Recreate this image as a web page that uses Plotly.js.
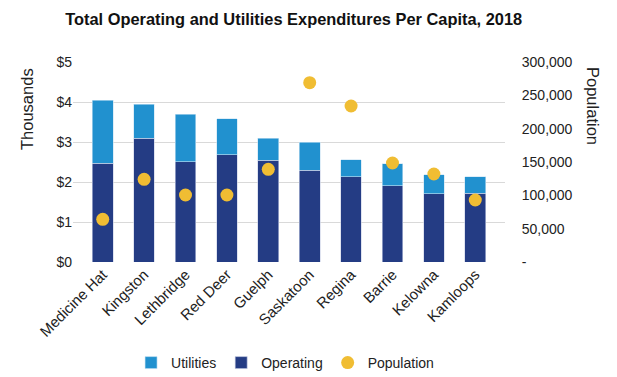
<!DOCTYPE html>
<html><head><meta charset="utf-8">
<script src="https://cdn.plot.ly/plotly-3.0.1.min.js"></script>
<style>html,body{margin:0;padding:0;background:#fff}#chart{width:617px;height:377px}</style>
</head><body><div id="chart"></div>
<script>
const cities = ["Medicine Hat","Kingston","Lethbridge","Red Deer","Guelph","Saskatoon","Regina","Barrie","Kelowna","Kamloops"];
const operating = [2.47,3.09,2.51,2.68,2.54,2.30,2.13,1.91,1.71,1.72];
const totals = [4.05,3.94,3.69,3.58,3.10,3.00,2.56,2.46,2.18,2.13];
const utilities = totals.map((t,i)=>+(t-operating[i]).toFixed(2));
const population = [64000,124000,100500,100500,139000,269000,234000,148500,132000,93000];
const popTickVals = [0,50000,100000,150000,200000,250000,300000];
const popTickText = ["-","50,000","100,000","150,000","200,000","250,000","300,000"];

const font = "Liberation Sans, Arial, sans-serif";
const traces = [
  {type:"bar", name:"Operating", x:cities, y:operating, marker:{color:"#243C84", line:{color:"#c9d0e6", width:0.6}}, legendrank:2},
  {type:"bar", name:"Utilities", x:cities, y:utilities, marker:{color:"#2191CF", line:{color:"#c9e3f3", width:0.6}}, legendrank:1},
  {type:"scatter", mode:"markers", name:"Population", x:cities, y:population, yaxis:"y2", marker:{color:"#F0BD33", size:13}, legendrank:3}
];
const layout = {
  width:617, height:377,
  margin:{l:73, r:112, t:62, b:115},
  barmode:"stack", bargap:0.5,
  font:{family:font, size:14, color:"#222"},
  paper_bgcolor:"#fff", plot_bgcolor:"#fff",
  title:{text:"<b>Total Operating and Utilities Expenditures Per Capita, 2018</b>", font:{size:16.4, color:"#111"}, x:0.476, xanchor:"center", xref:"container", y:0.95, yanchor:"middle"},
  xaxis:{tickangle:-45, tickfont:{size:15}, showgrid:false, showline:false, ticks:"", automargin:false},
  yaxis:{range:[0,5], dtick:1, tickprefix:"$", gridcolor:"#d9d9d9", gridwidth:1, zeroline:false, showline:false, ticks:"", ticklen:0,
         tickfont:{size:14}, automargin:false},
  yaxis2:{range:[0,300000], overlaying:"y", side:"right", tickvals:popTickVals, ticktext:popTickText, showgrid:false, zeroline:false, ticks:"outside", ticklen:13, tickcolor:"rgba(0,0,0,0)", tickfont:{size:14}, automargin:false},
  legend:{orientation:"h", xref:"container", yref:"container", x:0.462, xanchor:"center", y:1-363/377, yanchor:"middle", font:{size:14}, traceorder:"normal", itemwidth:30},
  annotations:[
    {text:"Population", xref:"paper", yref:"paper", x:(593-73)/432, y:(262-106)/200, textangle:90, showarrow:false, font:{size:16.5, color:"#222"}, xanchor:"center", yanchor:"middle"},
    {text:"Thousands", xref:"paper", yref:"paper", x:(27-73)/432, y:(262-109)/200, textangle:-90, showarrow:false, font:{size:16.5, color:"#222"}, xanchor:"center", yanchor:"middle"}
  ],
  showlegend:true
};
Plotly.newPlot("chart", traces, layout, {displayModeBar:false, staticPlot:true});
</script></body></html>
